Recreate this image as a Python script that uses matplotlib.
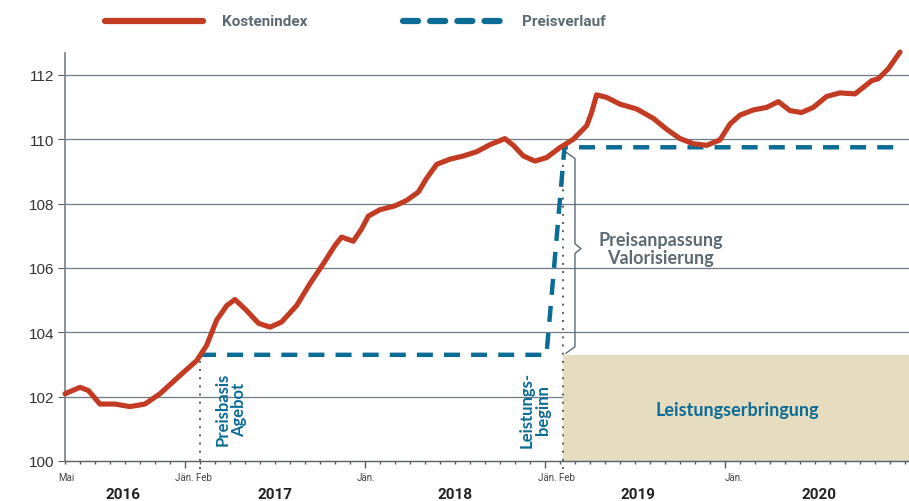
import matplotlib
matplotlib.use("Agg")
import matplotlib.pyplot as plt
from matplotlib.lines import Line2D
from matplotlib.patches import Rectangle

# ---- data (x = months since May 2016) ----
cost_months = [0, 1.0, 1.56, 2.33, 3.33, 4.33, 5.33, 6.33, 7.67, 8.78, 9.44, 10.1, 10.78, 11.33,
               12.1, 12.9, 13.67, 14.44, 15.44, 16.33, 17.22, 18.0, 18.44, 19.22, 19.78, 20.22,
               21.0, 22.0, 22.78, 23.56, 24.1, 24.78, 25.67, 26.56, 27.44, 28.33, 29.33, 29.89,
               30.56, 31.33, 32.11, 33.0, 33.89, 34.78, 35.11, 35.44, 36.11, 37.0, 38.11, 39.22,
               40.11, 41.0, 41.89, 42.78, 43.67, 44.33, 45.0, 45.89, 46.78, 47.56, 48.33, 49.11,
               49.89, 50.78, 51.67, 52.67, 53.22, 53.78, 54.22, 54.89, 55.67]
cost_values = [102.09, 102.29, 102.19, 101.77, 101.77, 101.69, 101.77, 102.09, 102.66, 103.12,
               103.59, 104.37, 104.83, 105.02, 104.68, 104.28, 104.16, 104.32, 104.83, 105.51,
               106.13, 106.70, 106.96, 106.83, 107.22, 107.61, 107.81, 107.93, 108.10, 108.36,
               108.78, 109.22, 109.38, 109.48, 109.61, 109.83, 110.02, 109.81, 109.48, 109.32,
               109.43, 109.74, 110.0, 110.42, 110.83, 111.38, 111.30, 111.09, 110.94, 110.65,
               110.31, 110.02, 109.86, 109.81, 109.98, 110.47, 110.75, 110.91, 110.99, 111.17,
               110.89, 110.83, 110.99, 111.33, 111.44, 111.41, 111.61, 111.82, 111.88, 112.19,
               112.71]

price_months = [9, 32.1, 33.3, 55.5]
price_values = [103.3, 103.3, 109.75, 109.75]

yticks = [100, 102, 104, 106, 108, 110, 112]
major_ticks = [8, 20, 32, 44]
month_labels = [(0.1, "Mai"), (8.6, "Jän. Feb"), (20.1, "Jän."), (32.8, "Jän. Feb"), (44.6, "Jän.")]
year_labels = [(3.9, "2016"), (14, "2017"), (26, "2018"), (38.2, "2019"), (50.3, "2020")]
price_basis_month = 9
service_start_month = 33.2
base_price = 103.3

RED = "#c23b22"
BLUE = "#0b6c95"
GRAY = "#5b6a73"
TAN = "#e6dcc0"
ROB = ["Roboto", "DejaVu Sans"]
LATO = ["Lato", "DejaVu Sans"]

fig = plt.figure(figsize=(9.09, 5.02), dpi=100)
ax = fig.add_axes([65/909, 1-462/502, 1-65/909, (462-54)/502])
ax.set_xlim(0, 56.27)
ax.set_ylim(100, 112.68)

for y in yticks[1:]:
    ax.axhline(y, color="#6f7b83", lw=0.9, zorder=1)

ax.add_patch(Rectangle((service_start_month, 100), 56.27 - service_start_month, base_price - 100,
                       facecolor=TAN, edgecolor="none", zorder=2))

# dotted vertical lines
ax.plot([price_basis_month]*2, [99.75, base_price], color="#555f66", lw=1.4, ls=(0, (1, 3.2)),
        zorder=3, clip_on=False)
ax.plot([service_start_month]*2, [99.75, 109.75], color="#555f66", lw=1.4, ls=(0, (1, 3.2)),
        zorder=3, clip_on=False)

# bracket
bx = 34.0
ax.plot([33.4, bx, bx, bx + 0.4, bx, bx, 33.4],
        [109.6, 109.4, 106.75, 106.6, 106.45, 103.55, 103.35],
        color=GRAY, lw=1.0, zorder=3)

ax.plot(price_months, price_values, color=BLUE, lw=3.2, ls=(0, (3.6, 2.5)), zorder=4,
        dash_capstyle="butt")
ax.plot(cost_months, cost_values, color=RED, lw=3.7, zorder=5, clip_on=False,
        solid_capstyle="round", solid_joinstyle="round")

# axes styling
for s in ["top", "right"]:
    ax.spines[s].set_visible(False)
ax.spines["left"].set_color("#777f85")
ax.spines["left"].set_linewidth(1.2)
ax.spines["bottom"].set_color("#555f66")
ax.spines["bottom"].set_linewidth(1.0)
ax.spines["bottom"].set_zorder(6)
ax.set_yticks(yticks)
ax.set_yticklabels([str(v) for v in yticks], fontsize=11, color="#333333",
                   family=["Liberation Sans", "DejaVu Sans"])
ax.tick_params(axis="y", length=5, color="#555f66", pad=3)
ax.set_xticks(major_ticks)
ax.set_xticks(list(range(0, 57)), minor=True)
ax.tick_params(axis="x", which="major", length=5, width=1, color="#555f66", labelbottom=False)
ax.tick_params(axis="x", which="minor", length=2.5, width=1, color="#555f66")

for m, t in month_labels:
    ax.text(m, 99.5, t, ha="center", va="center", fontsize=7, color="#444444", family=ROB)
for m, t in year_labels:
    ax.text(m, 98.98, t, ha="center", va="center", fontsize=11, fontweight="bold",
            color="#222222", family=ROB)

# annotations
ax.text(11.05, 101.62, "Preisbasis\nAgebot", rotation=90, ha="center", va="center",
        fontsize=12, fontweight="bold", color=BLUE, family=LATO, linespacing=1.05)
ax.text(31.3, 101.62, "Leistungs-\nbeginn", rotation=90, ha="center", va="center",
        fontsize=12, fontweight="bold", color=BLUE, family=LATO, linespacing=1.05)
ax.text(39.7, 106.6, "Preisanpassung\nValorisierung", ha="center", va="center",
        fontsize=13, fontweight="bold", color=GRAY, family=LATO, linespacing=1.1)
ax.text(44.8, 101.6, "Leistungserbringung", ha="center", va="center",
        fontsize=13, fontweight="bold", color=BLUE, family=LATO)

# legend (manual)
ly = 1 - 22/502
fig.add_artist(Line2D([105/909, 203/909], [ly, ly], color=RED, lw=4.5,
                      solid_capstyle="round"))
fig.text(222/909, ly, "Kostenindex", ha="left", va="center", fontsize=11,
         fontweight="bold", color=GRAY, family=ROB)
fig.add_artist(Line2D([403/909, 502/909], [ly, ly], color=BLUE, lw=4.5,
                      ls=(0, (2.4, 1.95)), dash_capstyle="round"))
fig.text(522/909, ly, "Preisverlauf", ha="left", va="center", fontsize=11,
         fontweight="bold", color=GRAY, family=ROB)

fig.savefig("out.png", dpi=100)
